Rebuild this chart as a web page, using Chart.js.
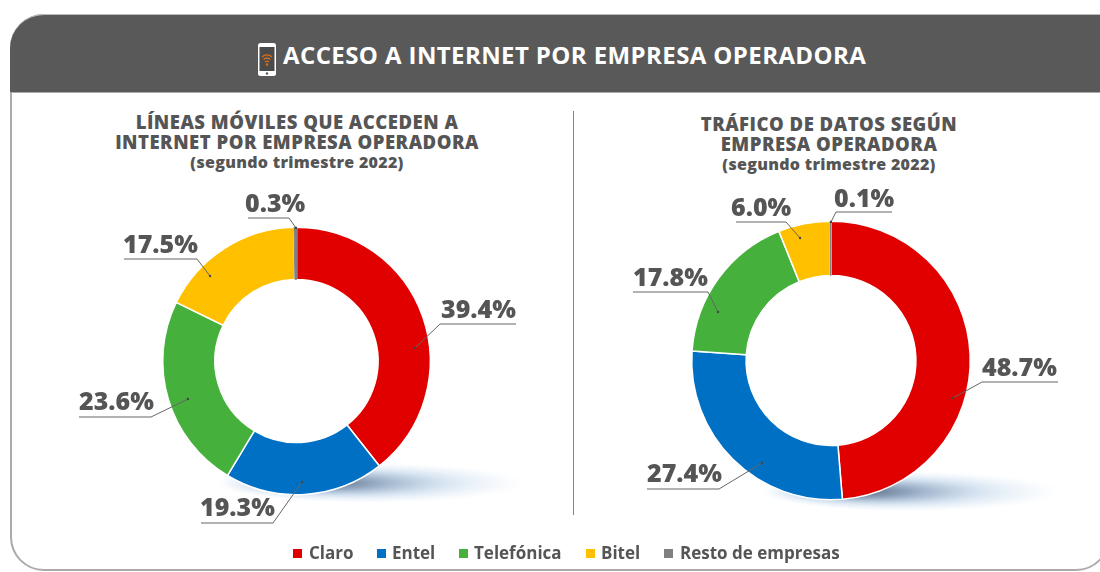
<!DOCTYPE html>
<html>
<head>
<meta charset="utf-8">
<script src="https://cdn.jsdelivr.net/npm/chart.js@4"></script>
<style>
html, body { margin: 0; padding: 0; background: #fff; overflow: hidden; }
#page { position: relative; width: 1100px; height: 572px; overflow: hidden; font-family: "Open Sans", sans-serif; color: #555; }
#frame { position: absolute; left: 10px; top: 14px; width: 1100px; height: 557px; box-sizing: border-box; border: 2px solid #aaa; border-radius: 34px; }
#head { position: absolute; left: -2px; top: -2px; width: 1120px; height: 79px; box-sizing: border-box; background: #595959; border-top: 1px solid #bbb; border-bottom: 1px solid #aaa; border-top-left-radius: 34px; }
#title { position: absolute; left: 283px; top: 40px; font-size: 24px; letter-spacing: 0.4px; font-weight: 700; color: #fff; white-space: nowrap; line-height: 30px; }
#phone { position: absolute; left: 257px; top: 43px; }
.sub { position: absolute; text-align: center; font-weight: 800; white-space: nowrap; line-height: 20px; font-size: 18.5px; letter-spacing: 0.5px; }
.sub small { display: block; font-size: 16px; font-weight: 800; line-height: 21px; letter-spacing: 0.3px; }
#sep { position: absolute; left: 573px; top: 111px; width: 1px; height: 404px; background: #888; }
canvas { position: absolute; left: 0; top: 0; }
#legend span { position: absolute; top: 543px; font-size: 17px; font-weight: 700; line-height: 20px; white-space: nowrap; }
#legend i { position: absolute; top: 549px; width: 9px; height: 9px; }
</style>
</head>
<body>
<div id="page">
  <div id="frame"><div id="head"></div></div>
  <svg id="phone" width="20" height="34" viewBox="0 0 20 34">
    <rect x="1" y="0" width="18" height="33" rx="2.5" fill="#fff"/>
    <rect x="2.5" y="4" width="15" height="24" fill="#4a4a4a"/>
    <path d="M5 14 a7 7 0 0 1 10 0 M6.6 16.5 a4.6 4.6 0 0 1 6.8 0 M8.2 19 a2.4 2.4 0 0 1 3.6 0" fill="none" stroke="#d9701c" stroke-width="1.3"/>
    <circle cx="10" cy="21.5" r="1.2" fill="#d9701c"/>
    <circle cx="10" cy="30.5" r="1.2" fill="#555"/>
  </svg>
  <div id="title">ACCESO A INTERNET POR EMPRESA OPERADORA</div>
  <div class="sub" style="left:97px;width:400px;top:112px">LÍNEAS MÓVILES QUE ACCEDEN A<br>INTERNET POR EMPRESA OPERADORA<small>(segundo trimestre 2022)</small></div>
  <div class="sub" style="left:629px;width:400px;top:114px">TRÁFICO DE DATOS SEGÚN<br>EMPRESA OPERADORA<small>(segundo trimestre 2022)</small></div>
  <div id="sep"></div>
  <canvas id="chartLineas" width="1100" height="572"></canvas>
  <canvas id="chartTrafico" width="1100" height="572"></canvas>
  <div id="legend"></div>
</div>
<script>
var categories = ['Claro', 'Entel', 'Telefónica', 'Bitel', 'Resto de empresas'];
var lineasValues = [39.4, 19.3, 23.6, 17.5, 0.3];
var traficoValues = [48.7, 27.4, 17.8, 6.0, 0.1];
var colors = ['#e00000', '#0070c5', '#46b03c', '#ffc000', '#808080'];

// label text box and leader line for each slice: [text x, text y, underline start, underline bend, y, anchor x, anchor y]
var lineasLeaders = [
    [441, 311, 516, 440, 324, 415, 348],
    [200, 509, 201, 273, 523, 302, 482],
    [79, 403, 79, 151, 417, 188, 399],
    [123, 246, 124, 197, 259, 210, 276],
    [245, 205, 248, 289, 218, 296, 228]
];
var traficoLeaders = [
    [982, 369, 1058, 982, 382, 953, 398],
    [647, 475, 647, 719, 489, 762, 463],
    [633, 279, 633, 708, 292, 718, 312],
    [731, 209, 736, 786, 222, 800, 238],
    [834, 200, 892, 836, 212, 831, 222]
];
var legendX = [[293, 309], [377, 392], [459, 474], [586, 601], [664, 680]];

// soft shadow under the ring and the percent labels with their leader lines
var ringDecor = {
    id: 'ringDecor',
    beforeDatasetsDraw: function (chart, args, opts) {
        var ctx = chart.ctx;
        var arc = chart.getDatasetMeta(0).data[0];
        var cx = arc.x + opts.shadowDx;
        var cy = arc.y + opts.shadowDy;
        ctx.save();
        ctx.translate(cx, cy);
        ctx.scale(1, opts.shadowRy / opts.shadowRx);
        var g = ctx.createRadialGradient(-70, 0, 0, 0, 0, opts.shadowRx);
        g.addColorStop(0, 'rgba(60, 72, 90, 0.95)');
        g.addColorStop(0.3, 'rgba(95, 125, 160, 0.7)');
        g.addColorStop(0.65, 'rgba(150, 185, 220, 0.35)');
        g.addColorStop(1, 'rgba(200, 220, 240, 0)');
        ctx.fillStyle = g;
        ctx.beginPath();
        ctx.arc(0, 0, opts.shadowRx, 0, Math.PI * 2);
        ctx.fill();
        ctx.restore();
    },
    afterDatasetsDraw: function (chart, args, opts) {
        var ctx = chart.ctx;
        var values = chart.data.datasets[0].data;
        ctx.save();
        ctx.font = '800 25px "Open Sans", sans-serif';
        ctx.textBaseline = 'middle';
        values.forEach(function (v, i) {
            var l = opts.leaders[i];
            ctx.fillStyle = '#555';
            ctx.fillText(v.toFixed(1) + '%', l[0], l[1]);
            ctx.strokeStyle = '#666';
            ctx.lineWidth = 1;
            ctx.beginPath();
            ctx.moveTo(l[2], l[4]);
            ctx.lineTo(l[3], l[4]);
            ctx.lineTo(l[5], l[6]);
            ctx.stroke();
            ctx.fillStyle = '#444';
            ctx.beginPath();
            ctx.arc(l[5], l[6], 1.2, 0, Math.PI * 2);
            ctx.fill();
        });
        ctx.restore();
    }
};

function makeRing(id, values, leaders, padding, shadow) {
    return new Chart(document.getElementById(id), {
        type: 'doughnut',
        data: {
            labels: categories,
            datasets: [{
                data: values,
                backgroundColor: colors,
                borderColor: ['#fff', '#fff', '#fff', '#fff', '#808080'],
                borderWidth: [1.5, 1.5, 1.5, 1.5, 1]
            }]
        },
        options: {
            responsive: false,
            animation: false,
            cutout: '61%',
            layout: { padding: padding },
            plugins: {
                legend: { display: false },
                tooltip: { enabled: false },
                ringDecor: {
                    leaders: leaders,
                    shadowDx: shadow[0],
                    shadowDy: shadow[1],
                    shadowRx: shadow[2],
                    shadowRy: shadow[3]
                }
            }
        },
        plugins: [ringDecor]
    });
}

var chartLineas = makeRing('chartLineas', lineasValues, lineasLeaders,
    { left: 162, top: 226, right: 669, bottom: 76 }, [75, 122, 155, 20]);
var chartTrafico = makeRing('chartTrafico', traficoValues, traficoLeaders,
    { left: 691, top: 220, right: 129, bottom: 71 }, [80, 131, 150, 20]);

var legend = document.getElementById('legend');
categories.forEach(function (name, i) {
    var box = document.createElement('i');
    box.style.left = legendX[i][0] + 'px';
    box.style.background = colors[i];
    legend.appendChild(box);
    var txt = document.createElement('span');
    txt.style.left = legendX[i][1] + 'px';
    txt.textContent = name;
    legend.appendChild(txt);
});
</script>
</body>
</html>
